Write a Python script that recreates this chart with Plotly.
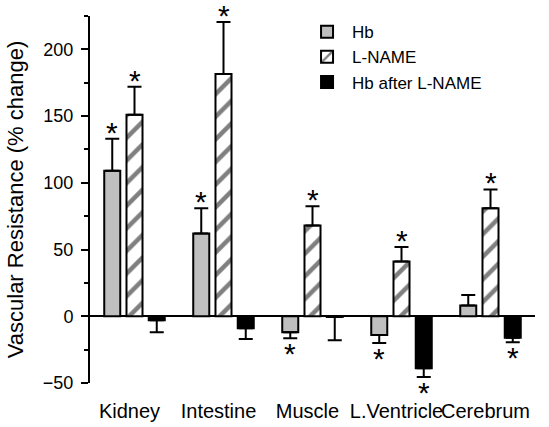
import plotly.graph_objects as go

categories = ["Kidney", "Intestine", "Muscle", "L.Ventricle", "Cerebrum"]
series_names = ["Hb", "L-NAME", "Hb after L-NAME"]

hb_values = [109, 62, -12, -14, 8]
hb_errors = [24, 19, 4.5, 6, 8]
hb_sig = [True, True, True, True, False]

lname_values = [151, 181.5, 68, 41, 81]
lname_errors = [21, 39, 14.5, 11, 14]
lname_sig = [True, True, True, True, True]

hbl_values = [-3, -9, -0.5, -39, -16]
hbl_errors = [9, 8, 17.5, 6.5, 3.5]
hbl_sig = [False, False, False, True, True]

y_ticks = [-50, 0, 50, 100, 150, 200]

FONT = "Liberation Sans, Arial, sans-serif"
slot = 0.25
bar_w = 0.18

series = [
    (series_names[0], hb_values, hb_errors, hb_sig,
     dict(color="#bfbfbf", line=dict(color="black", width=2))),
    (series_names[1], lname_values, lname_errors, lname_sig,
     dict(color="white", line=dict(color="black", width=2),
          pattern=dict(shape="/", fgcolor="black", bgcolor="white", size=16, solidity=0.28))),
    (series_names[2], hbl_values, hbl_errors, hbl_sig,
     dict(color="black", line=dict(color="black", width=2))),
]

fig = go.Figure()
annotations = []
n = len(series)
for j, (name, vals, errs, sig, marker) in enumerate(series):
    xs = [i + (j - (n - 1) / 2) * slot for i in range(len(categories))]
    up = [e if v >= 0 else 0 for v, e in zip(vals, errs)]
    down = [e if v < 0 else 0 for v, e in zip(vals, errs)]
    fig.add_trace(go.Bar(
        x=xs, y=vals, name=name, width=bar_w, marker=marker,
        error_y=dict(type="data", symmetric=False, array=up, arrayminus=down,
                     color="black", thickness=2, width=7),
    ))
    for x, v, e, s in zip(xs, vals, errs, sig):
        if not s:
            continue
        pos = v >= 0
        annotations.append(dict(
            x=x, y=v + e if pos else v - e, text="*", showarrow=False,
            yanchor="middle", yshift=14 if pos else -8,
            height=18, valign="top", borderpad=0,
            font=dict(size=30, color="black", family=FONT)))

fig.update_layout(
    width=549, height=427,
    margin=dict(l=90, r=14, t=16, b=44, autoexpand=False),
    paper_bgcolor="white", plot_bgcolor="white",
    barmode="overlay",
    font=dict(family=FONT, color="black"),
    annotations=annotations,
    showlegend=True,
    legend=dict(x=0.4765, y=1.005, xanchor="left", yanchor="top",
                font=dict(size=17, family=FONT, color="black"),
                bgcolor="rgba(0,0,0,0)", tracegroupgap=0, itemwidth=40),
)
fig.update_xaxes(
    range=[-0.5, 4.5], tickmode="array", tickvals=list(range(len(categories))),
    ticktext=categories, showline=False, ticks="", showgrid=False, zeroline=False,
    tickangle=0, ticklabelshift=-5,
    tickfont=dict(size=20, family=FONT, color="black"), ticklabelstandoff=14,
)
fig.update_yaxes(
    range=[-50, 225], tickmode="array", tickvals=y_ticks,
    showline=True, linecolor="black", linewidth=2,
    ticks="outside", ticklen=7, tickwidth=2, tickcolor="black",
    minor=dict(dtick=25, tick0=0, ticks="outside", ticklen=4, tickwidth=2, tickcolor="black"),
    showgrid=False, zeroline=True, zerolinecolor="black", zerolinewidth=2,
    tickfont=dict(size=18, family=FONT, color="black"), ticklabelstandoff=4,
    title=dict(text="Vascular Resistance (% change)", font=dict(size=22, family=FONT, color="black"), standoff=13),
)

fig.write_html("out.html", config={"displayModeBar": False},
               post_script="document.body.style.margin='0';")
